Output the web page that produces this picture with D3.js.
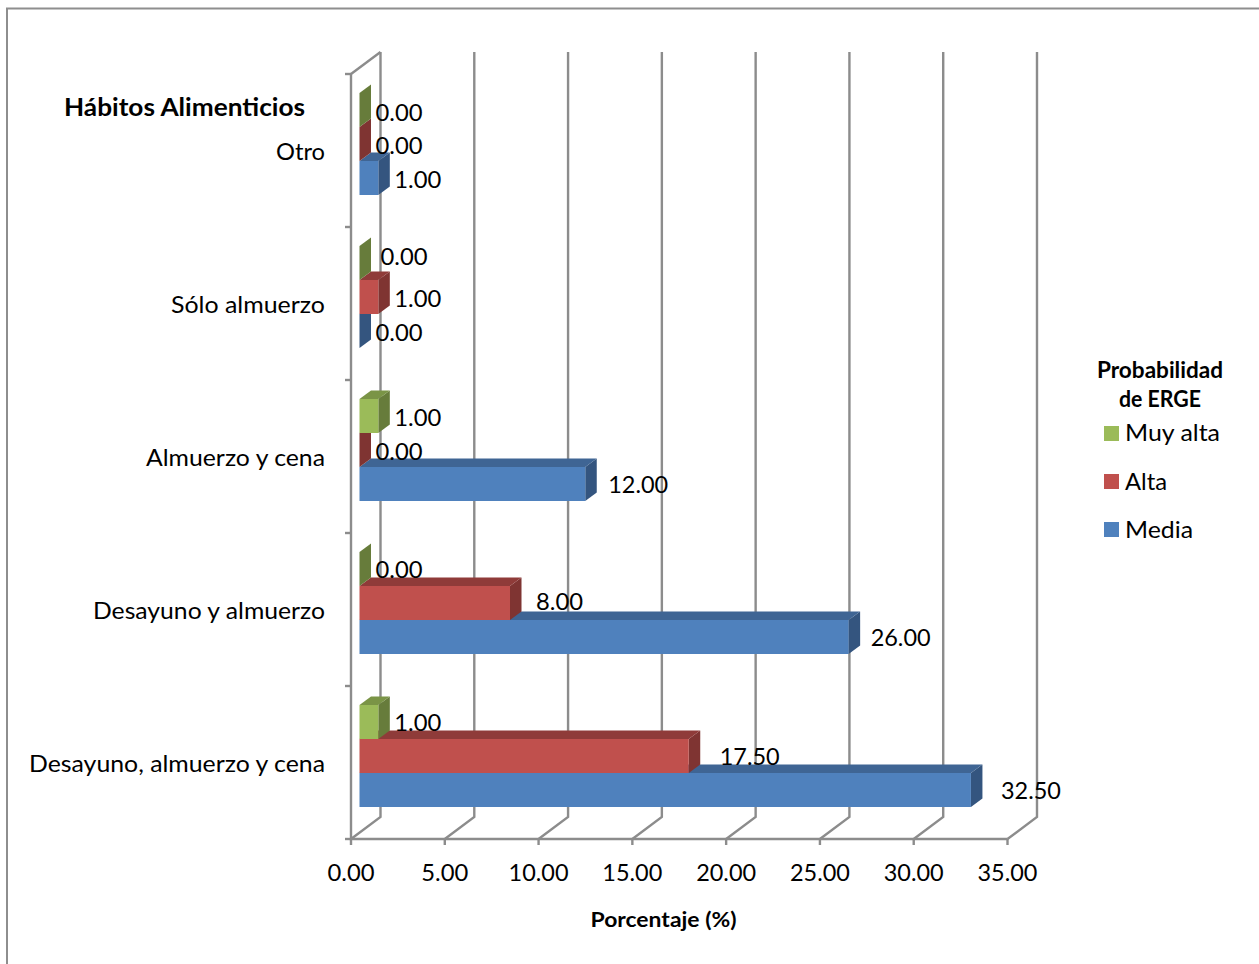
<!DOCTYPE html>
<html lang="es">
<head>
<meta charset="utf-8">
<script src="https://cdnjs.cloudflare.com/ajax/libs/d3/7.8.5/d3.min.js"></script>
<style>
  html, body { margin: 0; padding: 0; background: #fff; }
  svg { display: block; }
  text { font-family: Lato, "Open Sans", sans-serif; fill: #000; }
</style>
</head>
<body>
<svg id="chart" width="1259" height="964"></svg>
<script>
// Bottom-to-top order, as the category axis runs
const categories = ["Desayuno, almuerzo y cena", "Desayuno y almuerzo", "Almuerzo y cena", "Sólo almuerzo", "Otro"];
const media = [32.5, 26, 12, 0, 1];
const alta = [17.5, 8, 0, 1, 0];
const muyAlta = [1, 0, 1, 0, 0];
const xTicks = [0, 5, 10, 15, 20, 25, 30, 35];
const seriesNames = ["Media", "Alta", "Muy alta"];

const seriesValues = [media, alta, muyAlta];
const palette = {
  "Media":    { front: "#4f81bd", top: "#3f6594", side: "#34557f" },
  "Alta":     { front: "#c0504d", top: "#8f3b39", side: "#7f3432" },
  "Muy alta": { front: "#9bbb59", top: "#7a9446", side: "#677c3b" }
};

// Hand placement of a few data labels, in pixels [dx, dy] by [series][category]
const labelNudge = [
  [[14, 1], [6, 1], [7, 1], [0, 2], [0, 2]],
  [[15, 1], [10, -1], [0, 2], [0, 2], [0, 2]],
  [[0, 1], [0, 1], [0, 2], [5, -6], [0, 3]]
];
// Rendered widths of the set text, so the labels keep their narrow proportions
const categoryWidths = [296, 232, 179, 154, 49];
const legendWidths = { "Muy alta": 95, "Alta": 42, "Media": 68 };
const legendTitleWidths = [126, 82];

const svg = d3.select("#chart");
const GRID = "#8c8c8c";
const fit = (sel, w) => sel.attr("textLength", w).attr("lengthAdjust", "spacingAndGlyphs");

// Plot box: the front floor edge plus the receding depth of the 3-D walls
const x = d3.scaleLinear().domain([0, 35]).range([351, 1007.5]);
const y = d3.scaleBand().domain(d3.range(categories.length)).range([839, 74]);
const wallDepth = { dx: 29.5, dy: -22 };
const barDepth = { dx: 11.5, dy: -8.5 };
const barInset = 8.5;
const barStretch = 1.003;
const barHeight = 34;
const groupBase = 32;
const barLeft = x(0) + barInset;
const barRight = v => barLeft + (x(v) - x(0)) * barStretch;
const barY = (cat, s) => y(cat) + y.bandwidth() - groupBase - barHeight * (s + 1);

// Outer frame
svg.append("path").attr("d", "M7,964V8.5H1259").attr("fill", "none").attr("stroke", "#8e8e8e").attr("stroke-width", 2);

// Walls and floor
const grid = svg.append("g").attr("fill", "none").attr("stroke", GRID).attr("stroke-width", 2.4);
xTicks.forEach(t => {
  const px = x(t);
  grid.append("path").attr("d", `M${px},${y.range()[0]}l${wallDepth.dx},${wallDepth.dy}V${y.range()[1] + wallDepth.dy}`);
  grid.append("line").attr("x1", px).attr("x2", px).attr("y1", 839).attr("y2", 845);
});
grid.append("path").attr("d", `M${x(0)},74V839H${x(35)}`);
grid.append("path").attr("d", `M${x(0)},74l${wallDepth.dx},${wallDepth.dy}`);
const yEdges = d3.range(categories.length + 1).map(i => i === categories.length ? y.range()[1] : y(i) + y.bandwidth());
yEdges.forEach(py => grid.append("line").attr("x1", x(0) - 6).attr("x2", x(0)).attr("y1", py).attr("y2", py));

// Bars: lowest series first so the upper ones overlap its top face
const bars = svg.append("g");
const poly = pts => d3.line()(pts) + "Z";
seriesNames.forEach((name, s) => {
  const c = palette[name];
  seriesValues[s].forEach((v, cat) => {
    const l = barLeft, r = barRight(v), t = barY(cat, s), b = t + barHeight;
    const { dx, dy } = barDepth;
    bars.append("path").attr("fill", c.side).attr("d", poly([[r, t], [r + dx, t + dy], [r + dx, b + dy], [r, b]]));
    if (v > 0) {
      bars.append("path").attr("fill", c.top).attr("d", poly([[l, t], [r, t], [r + dx, t + dy], [l + dx, t + dy]]));
      bars.append("rect").attr("x", l).attr("y", t).attr("width", r - l).attr("height", barHeight).attr("fill", c.front);
    }
  });
});

// Data labels
const labels = svg.append("g").attr("font-size", 24);
seriesNames.forEach((name, s) => {
  seriesValues[s].forEach((v, cat) => {
    const [ndx, ndy] = labelNudge[s][cat];
    labels.append("text")
      .attr("x", barRight(v) + 16 + ndx)
      .attr("y", barY(cat, s) + barHeight / 2 + ndy)
      .attr("dy", "0.35em")
      .text(v.toFixed(2))
      .call(fit, v >= 10 ? 60 : 47);
  });
});

// Category labels
const catLabels = svg.append("g").attr("font-size", 24);
categories.forEach((c, i) => {
  catLabels.append("text")
    .attr("x", 325 - categoryWidths[i])
    .attr("y", y(i) + y.bandwidth() / 2 + 1)
    .attr("dy", "0.35em")
    .text(c)
    .call(fit, categoryWidths[i]);
});

// Value axis labels and titles
const tickFmt = d3.format(".2f");
const tickG = svg.append("g").attr("font-size", 24).attr("text-anchor", "middle");
xTicks.forEach(t => {
  tickG.append("text").attr("x", x(t)).attr("y", 873).attr("dy", "0.35em").text(tickFmt(t)).call(fit, t >= 10 ? 60 : 47);
});
svg.append("text").attr("x", 663.5).attr("y", 920).attr("dy", "0.35em").attr("text-anchor", "middle")
  .attr("font-size", 20).attr("font-weight", 700).text("Porcentaje (%)").call(fit, 146);
svg.append("text").attr("x", 64).attr("y", 108).attr("dy", "0.35em")
  .attr("font-size", 24).attr("font-weight", 700).text("Hábitos Alimenticios").call(fit, 241);

// Legend, listed top to bottom in reverse series order
const legend = svg.append("g");
["Probabilidad", "de ERGE"].forEach((line, i) => {
  legend.append("text").attr("x", 1160).attr("y", 370 + i * 29).attr("dy", "0.35em").attr("text-anchor", "middle")
    .attr("font-size", 22).attr("font-weight", 700).text(line).call(fit, legendTitleWidths[i]);
});
const legendY = d3.scalePoint().domain(seriesNames.slice().reverse()).range([433.5, 529.5]);
seriesNames.forEach(name => {
  legend.append("rect").attr("x", 1104).attr("y", legendY(name) - 7.5).attr("width", 15).attr("height", 15).attr("fill", palette[name].front);
  legend.append("text").attr("x", 1125).attr("y", legendY(name) - (name === "Muy alta" ? 1 : 0)).attr("dy", "0.35em").attr("font-size", 24).text(name).call(fit, legendWidths[name]);
});
</script>
</body>
</html>
